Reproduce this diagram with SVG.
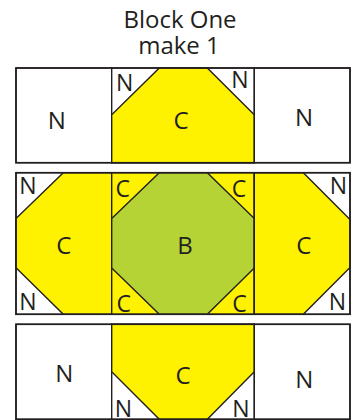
<svg xmlns="http://www.w3.org/2000/svg" width="354" height="420" viewBox="0 0 354 420">
<style>
.bg{fill:#ffffff}
.w{fill:#ffffff;stroke:#231f20;stroke-width:1.4;stroke-linejoin:miter}
.y{fill:#fff200;stroke:#231f20;stroke-width:1.4;stroke-linejoin:miter}
.g{fill:#b5d335;stroke:#231f20;stroke-width:1.4;stroke-linejoin:miter}
.o{fill:none;stroke:#231f20;stroke-width:1.6}
text{font-family:"Open Sans","Liberation Sans",sans-serif;font-size:24px;fill:#231f20;text-anchor:middle}
.s{font-size:23px}
</style>
<rect class="bg" x="0" y="0" width="354" height="420"/>
<g id="title">
<text x="180" y="27.7">Block One</text>
<text x="179" y="53.5">make 1</text>
</g>
<!-- Top row -->
<g id="top-left-N">
<rect class="w" x="16" y="68" width="95.7" height="94.7"/>
<text x="56.7" y="129">N</text>
</g>
<g id="top-center">
<rect class="w" x="111.7" y="68" width="142.6" height="94.7"/>
<polygon class="y" points="111.7,162.7 111.7,114.8 159.3,68 207.3,68 254.3,114.8 254.3,162.7"/>
<text x="181" y="129">C</text>
<text class="s" x="124.7" y="91">N</text>
<text class="s" x="239.8" y="88">N</text>
</g>
<g id="top-right-N">
<rect class="w" x="254.3" y="68" width="95.7" height="94.7"/>
<text x="304" y="126">N</text>
</g>
<!-- Middle row -->
<g id="mid-left">
<rect class="w" x="16" y="172.7" width="95.7" height="141.6"/>
<polygon class="y" points="63.3,172.7 111.7,172.7 111.7,314.3 63.3,314.3 16,267.8 16,218.5"/>
<text x="63.8" y="254">C</text>
<text class="s" x="27.8" y="194">N</text>
<text class="s" x="27.8" y="310">N</text>
</g>
<g id="mid-center">
<rect class="y" x="111.7" y="172.7" width="142.6" height="141.6"/>
<polygon class="g" points="159.3,172.7 207.3,172.7 254.3,218.5 254.3,268 207.3,314.3 159.3,314.3 111.7,268 111.7,218.5"/>
<text x="185" y="254">B</text>
<text class="s" x="122.7" y="197">C</text>
<text class="s" x="239" y="197">C</text>
<text class="s" x="123.7" y="312">C</text>
<text class="s" x="239.5" y="312">C</text>
</g>
<g id="mid-right">
<rect class="w" x="254.3" y="172.7" width="95.7" height="141.6"/>
<polygon class="y" points="254.3,172.7 303.3,172.7 350,219.5 350,267.5 303.3,314.3 254.3,314.3"/>
<text x="303.8" y="254">C</text>
<text class="s" x="338.3" y="194">N</text>
<text class="s" x="337.5" y="310">N</text>
</g>
<!-- Bottom row -->
<g id="bot-left-N">
<rect class="w" x="16" y="324.3" width="95.7" height="95"/>
<text x="64.2" y="381.5">N</text>
</g>
<g id="bot-center">
<rect class="w" x="111.7" y="324.3" width="142.6" height="95"/>
<polygon class="y" points="111.7,324.3 254.3,324.3 254.3,371.7 207.3,419.3 159.3,419.3 111.7,371.7"/>
<text x="183" y="384">C</text>
<text class="s" x="123.3" y="417">N</text>
<text class="s" x="240.8" y="417">N</text>
</g>
<g id="bot-right-N">
<rect class="w" x="254.3" y="324.3" width="95.7" height="95"/>
<text x="304.2" y="388">N</text>
</g>
<g id="outlines">
<rect class="o" x="16" y="68" width="334" height="94.7"/>
<rect class="o" x="16" y="172.7" width="334" height="141.6"/>
<rect class="o" x="16" y="324.3" width="334" height="95"/>
</g>
</svg>
